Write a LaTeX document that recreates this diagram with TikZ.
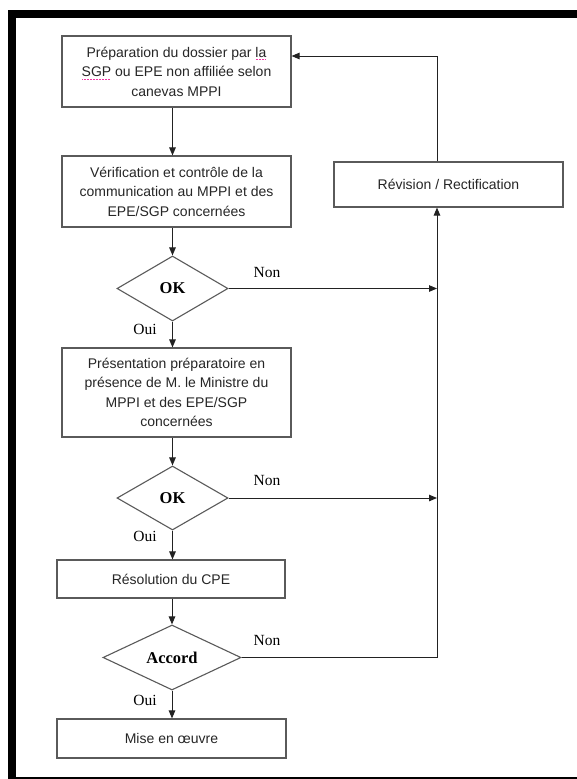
\documentclass[tikz,border=0pt]{standalone}
\usepackage{fontspec}
\setmainfont{Liberation Sans}
\newfontfamily\tnr{Liberation Serif}
\usetikzlibrary{arrows.meta,shapes.geometric}

\definecolor{boxgray}{HTML}{5A5A5A}
\definecolor{linegray}{HTML}{222222}

% dotted magenta underline, as left by a spell checker
\newcommand\spellmark[1]{\setbox0\hbox{#1}\leavevmode\rlap{\color{magenta!80}\raisebox{-2.8pt}{\hbox to \wd0{\leaders\hbox to 1.5pt{\hss\rule{0.75pt}{0.75pt}\hss}\hfill}}}\box0\relax}

\begin{document}
\begin{tikzpicture}[x=1pt,y=-1pt,
  proc/.style={draw=boxgray,line width=1.1pt,align=center,text=black!85,
    font=\fontsize{14}{19.5}\selectfont,inner sep=0pt},
  test/.style={diamond,draw=boxgray,line width=1.1pt,inner sep=0pt,
    font=\tnr\bfseries\fontsize{16.5}{18}\selectfont},
  lbl/.style={font=\tnr\fontsize{15.5}{17}\selectfont,inner sep=0pt},
  flow/.style={draw=linegray,line width=1pt,-{Triangle[length=8pt,width=6.5pt]}}]

% page and outer frame (its right side lies off the page)
\useasboundingbox (0,0) rectangle (577,779);
\clip (0,0) rectangle (577,779);
\fill[white] (0,0) rectangle (577,779);
\draw[line width=8.5pt] (600,14) -- (11.75,14) -- (11.75,781) -- (600,781);

% main column
\node[proc,minimum width=229pt,minimum height=71pt] (b1) at (176.5,71.5)
  {Préparation du dossier par \spellmark{la}\\ \spellmark{SGP} ou EPE non affiliée selon\\ canevas MPPI};
\node[proc,minimum width=229pt,minimum height=71pt] (b2) at (176.5,191.5)
  {Vérification et contrôle de la\\ communication au MPPI et des\\ EPE/SGP concernées};
\node[test,minimum width=111pt,minimum height=65pt] (d1) at (172.5,288.5) {OK};
\node[proc,minimum width=229pt,minimum height=89pt] (b3) at (176.5,392.5)
  {Présentation préparatoire en\\ présence de M. le Ministre du\\ MPPI et des EPE/SGP\\ concernées};
\node[test,minimum width=111pt,minimum height=64pt] (d2) at (172.5,498) {OK};
\node[proc,minimum width=228pt,minimum height=38pt] (b4) at (171,579) {Résolution du CPE};
\node[test,minimum width=138pt,minimum height=65pt] (d3) at (172,657.5) {Accord};
\node[proc,minimum width=229pt,minimum height=39pt] (b5) at (171.5,738.5) {Mise en œuvre};

% side box
\node[proc,minimum width=229pt,minimum height=45pt] (rev) at (448.5,184.5) {Révision / Rectification};

% return rail
\coordinate (railbot) at (437,657.5);
\coordinate (railtop) at (437,56);

% downward flow
\draw[flow] (b1.south -| d1.north) -- (b2.north -| d1.north);
\draw[flow] (b2.south -| d1.north) -- (d1.north);
\draw[flow] (d1.south) -- (b3.north -| d1.south);
\draw[flow] (b3.south -| d2.north) -- (d2.north);
\draw[flow] (d2.south) -- (b4.north -| d2.south);
\draw[flow] (b4.south -| d3.north) -- (d3.north);
\draw[flow] (d3.south) -- (b5.north -| d3.south);

% refusals back to revision
\draw[flow] (d1.east) -- (d1.east -| railbot);
\draw[flow] (d2.east) -- (d2.east -| railbot);
\draw[flow] (d3.east) -- (railbot) -- (rev.south -| railbot);
\draw[flow] (rev.north -| railtop) -- (railtop) -- (railtop -| b1.east);

% branch labels
\node[lbl] (n1) at (267,272.5) {Non};
\node[lbl] (n2) at (267,480) {Non};
\node[lbl] (n3) at (267,640) {Non};
\node[lbl] (o1) at (145,329) {Oui};
\node[lbl] (o2) at (145,536) {Oui};
\node[lbl] (o3) at (145,700) {Oui};
\end{tikzpicture}
\end{document}
